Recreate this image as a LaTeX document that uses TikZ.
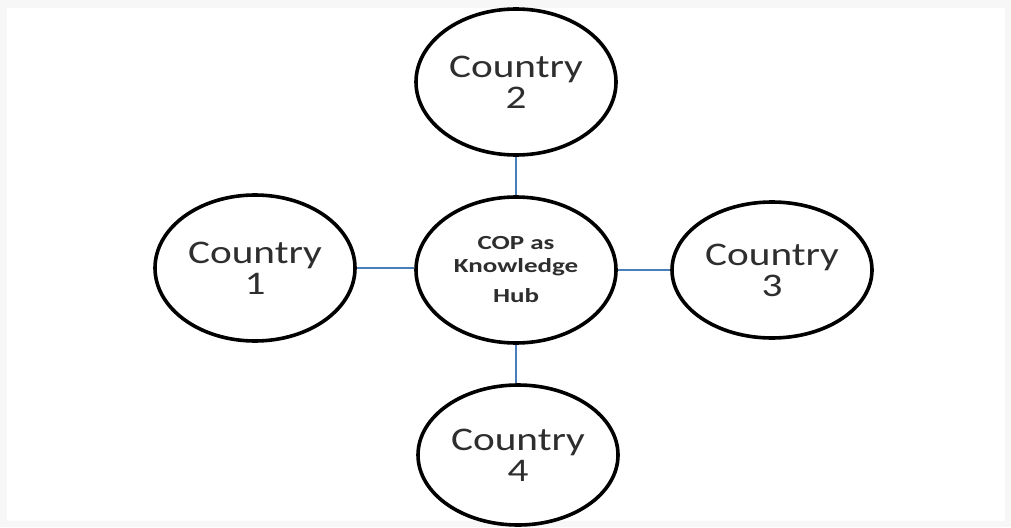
\documentclass[tikz,border=0pt]{standalone}
\usepackage{fontspec}
\setmainfont{Carlito}
\newfontfamily\labelfont[FakeStretch=1.25]{Carlito}
\newfontfamily\hubfont[FakeStretch=1.35]{Carlito}
\usetikzlibrary{shapes.geometric}
\definecolor{linkblue}{HTML}{4A7EBB}
\definecolor{pagegray}{HTML}{F7F7F7}
\tikzset{
  country/.style={ellipse, draw=black, line width=3.6pt, fill=white,
    minimum width=200pt, minimum height=146pt, inner sep=0pt,
    align=center, text=black!82, font=\labelfont\fontsize{33}{31}\selectfont},
  hub/.style={country, font=\hubfont\bfseries\fontsize{20}{23}\selectfont},
  link/.style={draw=linkblue, line width=2pt}
}
\begin{document}
\begin{tikzpicture}[x=1pt,y=-1pt]
  % page with a faint frame
  \fill[pagegray] (0,0) rectangle (1011,527);
  \fill[white] (7,8) rectangle (1005,521);
  \useasboundingbox (0,0) rectangle (1011,527);

  % hub and the four countries
  \node[hub] (hub) at (516,270) {COP as\\Knowledge\\[7pt]Hub};
  \node[country] (c1) at (255,268) {Country\\1};
  \node[country] (c2) at (516,82) {Country\\2};
  \node[country, minimum height=136pt] (c3) at (772,270) {Country\\3};
  \node[country, minimum height=140pt] (c4) at (518,455) {Country\\4};

  % spokes
  \draw[link] (c1.east) -- (hub.west |- c1.east);
  \draw[link] (hub.east) -- (c3.west);
  \draw[link] (c2.south) -- (hub.north);
  \draw[link] (hub.south) -- (c4.north -| hub.south);
\end{tikzpicture}
\end{document}
